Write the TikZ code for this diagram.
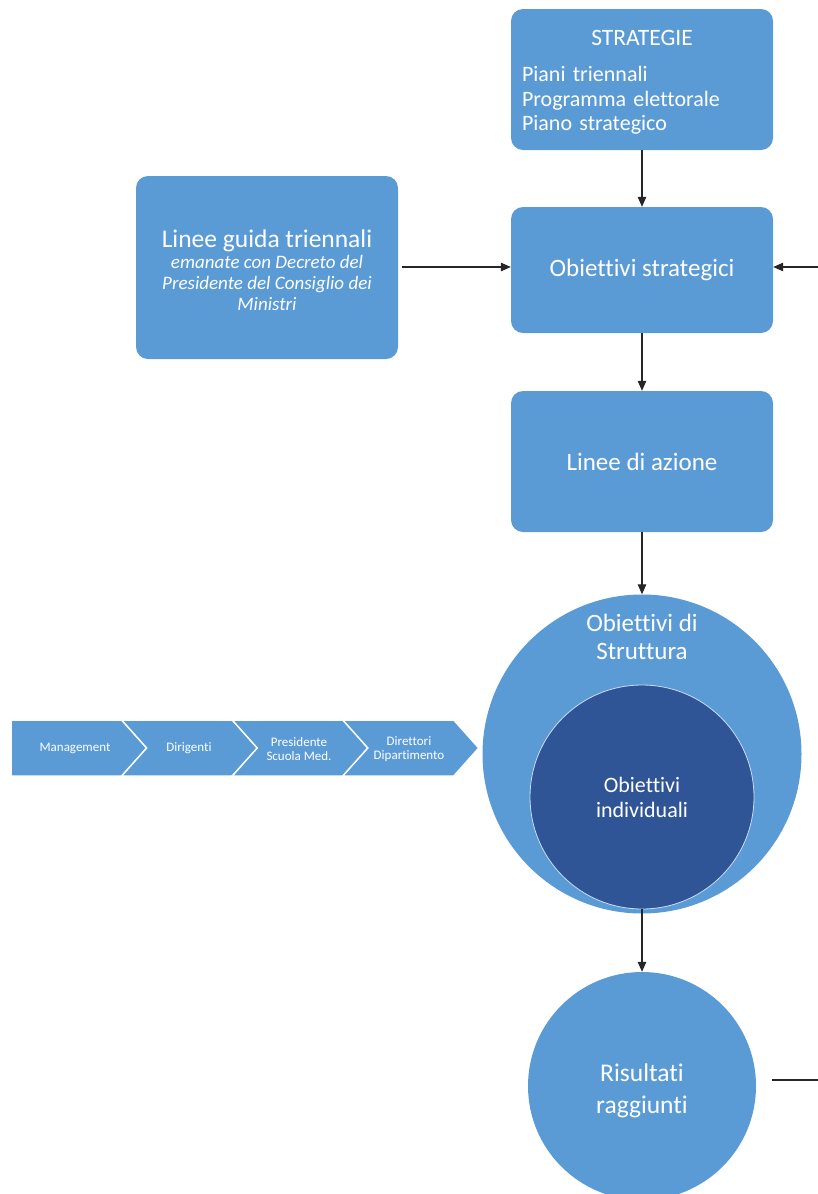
\documentclass[tikz,border=0pt]{standalone}
\usepackage{fontspec}
\setmainfont[Ligatures={NoCommon}]{Carlito}
\usetikzlibrary{arrows.meta,positioning}
\definecolor{Sky}{HTML}{5B9BD5}
\definecolor{Deep}{HTML}{2F5597}
\definecolor{Rim}{HTML}{C9DCF0}
\tikzset{
  box/.style={fill=Sky,rounded corners=12pt,minimum width=262pt,text=white,align=center,inner sep=0pt,font=\fontsize{25}{28}\selectfont},
  ball/.style={circle,fill=Sky,text=white,align=center,inner sep=0pt},
  txt/.style={text=white,align=center,inner sep=0pt},
  link/.style={-{Triangle[length=10pt,width=8.5pt]},black!85,line width=1.1pt},
  chev/.style={fill=Sky,draw=white,line width=1.5pt,line join=miter},
  tag/.style={text=white,align=center,font=\fontsize{13}{14.5}\selectfont},
}
\begin{document}
\begin{tikzpicture}[x=1pt,y=-1pt]
  \useasboundingbox (0,0) rectangle (818,1194);
  % boxes on the right
  \node[box,minimum height=141pt] (strat) at (642,79.5) {};
  \node[txt,text width=240pt,align=left,font=\fontsize{22}{24.5}\selectfont] (stratlab) at (642,82.5)
    {\makebox[240pt]{\fontsize{23.5}{24.5}\selectfont STRATEGIE}\\[12pt]Piani triennali\\Programma elettorale\\Piano strategico};
  \node[box,minimum height=126pt] (obstr) at (642,270) {Obiettivi strategici};
  \node[box,minimum height=141pt] (azione) at (642,461.5) {Linee di azione};
  \node[box,minimum height=183pt] (linee) at (267,267.5) {};
  \node[txt,font=\fontsize{19}{21}\selectfont] (lineelab) at (267,270.5)
    {{\fontsize{25.5}{21}\selectfont Linee guida triennali}\\\itshape emanate con Decreto del\\\itshape Presidente del Consiglio dei\\\itshape Ministri};
  % circles
  \node[ball,minimum size=319pt] (strutt) at (642,754) {};
  \node[txt,font=\fontsize{25}{28}\selectfont] (struttlab) at (642,637) {Obiettivi di\\Struttura};
  \node[ball,fill=Deep,draw=Rim,line width=0.8pt,minimum size=224pt,font=\fontsize{22}{25}\selectfont] (indiv) at (642,797) {Obiettivi\\individuali};
  \node[ball,minimum size=228pt] (ris) at (642,1086) {};
  \node[txt,font=\fontsize{25.5}{32}\selectfont] (rislab) at (642,1091) {Risultati\\raggiunti};
  % chevrons
  \foreach \i/\n in {0/0,1/25,2/25,3/25}
    \draw[chev] ({11+110.6*\i},720) -- ++(111,0) -- ++(25,28) -- ++(-25,28) -- ++(-111,0) -- ++(\n,-28) -- cycle;
  \node[tag] (mgmt) at (75,748) {Management};
  \node[tag] (dirig) at (189,748) {Dirigenti};
  \node[tag] (pres) at (299,749) {Presidente\\Scuola Med.};
  \node[tag] (dirdip) at (409,749) {Direttori\\Dipartimento};
  % connectors
  \coordinate (rin) at (818,267);
  \coordinate (rout) at (818,1080);
  \draw[link] (strat) -- (obstr);
  \draw[link] (obstr) -- (azione);
  \draw[link] (azione) -- (strutt);
  \draw[link] (indiv) -- (ris);
  \draw[link,shorten <=4pt] (rin -| linee.east) -- (rin -| obstr.west);
  \draw[link] (rin) -- (rin -| obstr.east);
  \draw[black!85,line width=1.1pt,shorten >=16pt] (rout) -- (rout -| ris.east);
\end{tikzpicture}
\end{document}
